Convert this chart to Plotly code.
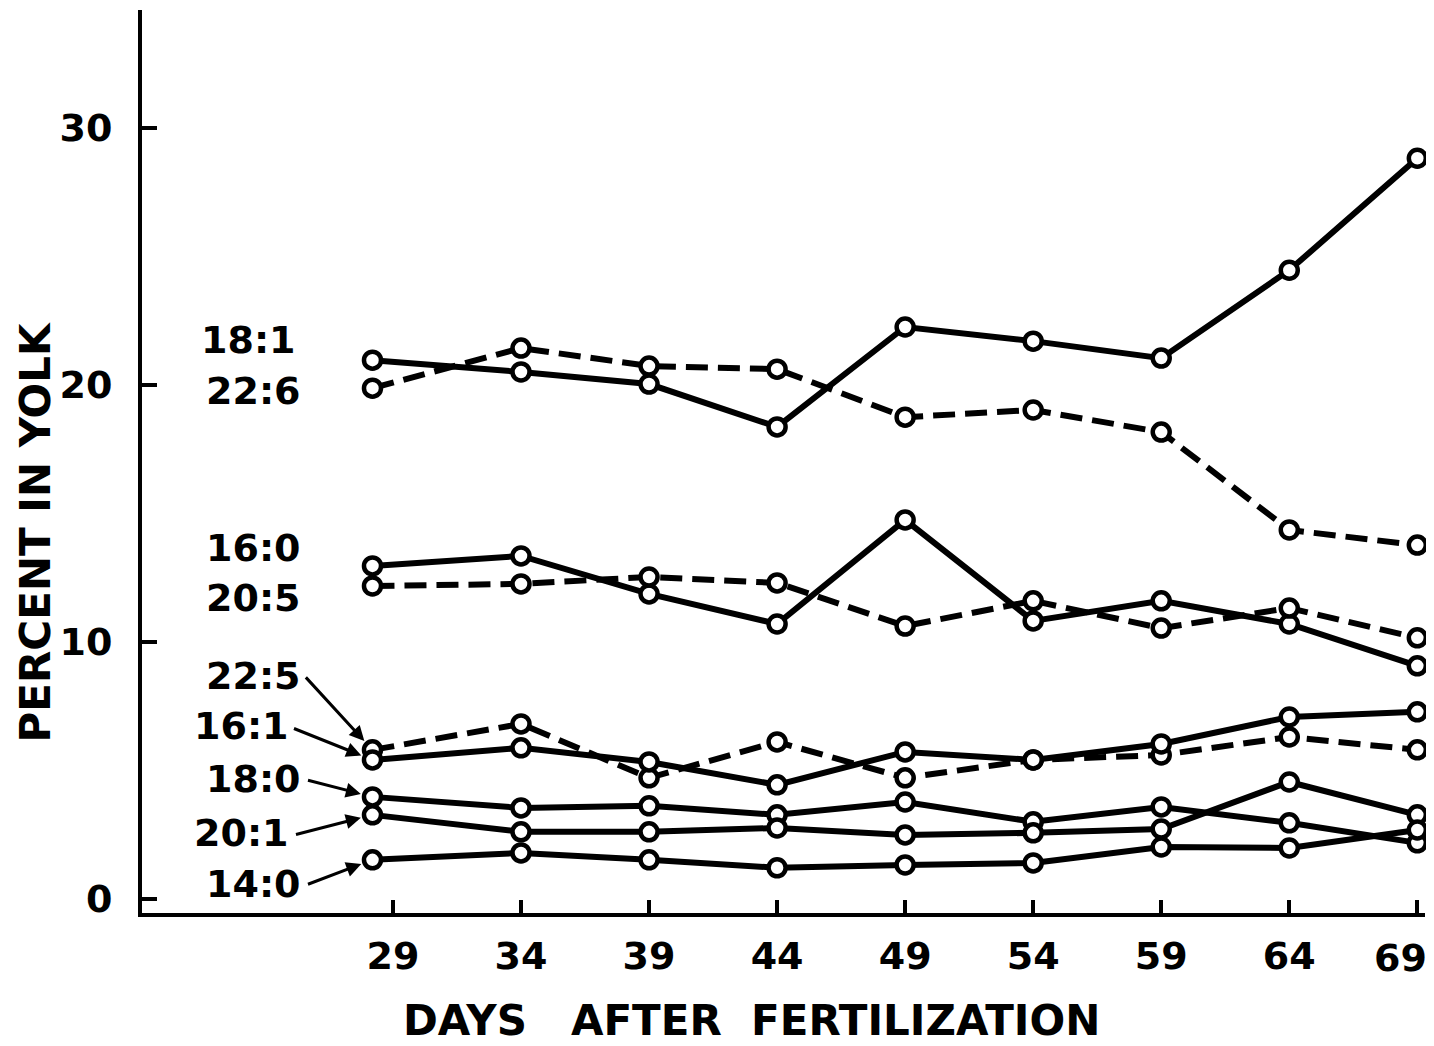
import plotly.graph_objects as go

# days after fertilization (first sampling sits a little before the 29 tick)
days = [28.2, 34, 39, 44, 49, 54, 59, 64, 69]
tick_days = [29, 34, 39, 44, 49, 54, 59, 64, 69]
y_ticks = [0, 10, 20, 30]

# percent of each fatty acid in yolk
fa_18_1 = [20.97, 20.51, 20.04, 18.37, 22.26, 21.71, 21.05, 24.47, 28.83]
fa_22_6 = [19.88, 21.44, 20.74, 20.62, 18.75, 19.03, 18.17, 14.36, 13.77]
fa_16_0 = [12.96, 13.35, 11.87, 10.70, 14.75, 10.82, 11.60, 10.70, 9.07]
fa_20_5 = [12.18, 12.26, 12.53, 12.30, 10.62, 11.60, 10.54, 11.32, 10.16]
fa_22_5 = [5.80, 6.81, 4.71, 6.11, 4.71, 5.41, 5.60, 6.30, 5.80]
fa_16_1 = [5.41, 5.88, 5.33, 4.44, 5.72, 5.41, 6.03, 7.08, 7.28]
fa_18_0 = [3.97, 3.54, 3.62, 3.27, 3.77, 3.00, 3.58, 2.96, 2.18]
fa_20_1 = [3.27, 2.61, 2.61, 2.76, 2.49, 2.57, 2.72, 4.55, 3.27]
fa_14_0 = [1.52, 1.79, 1.52, 1.21, 1.32, 1.40, 2.02, 1.98, 2.68]

series = [
    ("18:1", fa_18_1, False),
    ("22:6", fa_22_6, True),
    ("16:0", fa_16_0, False),
    ("20:5", fa_20_5, True),
    ("22:5", fa_22_5, True),
    ("16:1", fa_16_1, False),
    ("18:0", fa_18_0, False),
    ("20:1", fa_20_1, False),
    ("14:0", fa_14_0, False),
]

# label placement: (right edge in days, y in percent, arrow tail offset px or None)
label_pos = {
    "18:1": (25.3, 21.75, None),
    "22:6": (25.5, 19.77, None),
    "16:0": (25.5, 13.66, None),
    "20:5": (25.5, 11.71, None),
    "22:5": (25.5, 8.68, (-68, -74)),
    "16:1": (25.0, 6.73, (-80, -32)),
    "18:0": (25.5, 4.67, (-66, -17)),
    "20:1": (25.0, 2.57, (-78, 20)),
    "14:0": (25.5, 0.58, (-66, 25)),
}

font_main = dict(family="DejaVu Sans", size=38, color="black", weight="bold")
font_title = dict(family="DejaVu Sans", size=42, color="black", weight="bold")
nb = "\u00a0"

fig = go.Figure()

# lines first so the open circles sit on top
for name, vals, dashed in series:
    fig.add_trace(go.Scatter(
        x=days, y=vals, mode="lines", name=name, hoverinfo="skip",
        line=dict(color="black", width=6, dash="22px,10px" if dashed else "solid"),
    ))

for name, vals, dashed in series:
    fig.add_trace(go.Scatter(
        x=days, y=vals, mode="markers", name=name, cliponaxis=False,
        marker=dict(symbol="circle", size=17, color="white",
                    line=dict(color="black", width=4.5)),
    ))

for name, vals, dashed in series:
    lx, ly, arrow = label_pos[name]
    fig.add_annotation(x=lx, y=ly, xref="x", yref="y", text=name, showarrow=False,
                       xanchor="right", yanchor="middle", font=font_main)
    if arrow:
        fig.add_annotation(x=days[0], y=vals[0], xref="x", yref="y", text="",
                           showarrow=True, ax=arrow[0], ay=arrow[1],
                           arrowhead=2, arrowsize=1, arrowwidth=3,
                           arrowcolor="black", standoff=12)

# last tick label sits left of its tick, as in the original, so it stays on the page
tick_text = [str(d) for d in tick_days[:-1]] + [""]
fig.add_annotation(x=tick_days[-1], y=0, xref="x", yref="paper", text=str(tick_days[-1]),
                   showarrow=False, xanchor="center", yanchor="middle",
                   xshift=-17, yshift=-45, font=font_main)

fig.add_annotation(x=-0.083, y=0.422, xref="paper", yref="paper",
                   xanchor="center", yanchor="middle",
                   text="PERCENT" + nb + "IN" + nb + "YOLK", textangle=-90,
                   showarrow=False, font=font_title)
fig.add_annotation(x=0.475, y=-0.119, xref="paper", yref="paper",
                   xanchor="center", yanchor="middle",
                   text="DAYS" + nb * 3 + "AFTER" + nb * 2 + "FERTILIZATION",
                   showarrow=False, font=font_title)

fig.update_xaxes(range=[19.2, 69.3], tickvals=tick_days, ticktext=tick_text,
                 ticks="inside", ticklen=13,
                 tickwidth=4, tickcolor="black", showline=True, linewidth=4,
                 linecolor="black", showgrid=False, zeroline=False,
                 tickfont=font_main, ticklabelstandoff=6, ticklabeloverflow="allow",
                 automargin=False)
fig.update_yaxes(range=[-0.55, 34.6], tickvals=y_ticks, ticks="inside", ticklen=15,
                 tickwidth=4, tickcolor="black", showline=True, linewidth=4,
                 linecolor="black", showgrid=False, zeroline=False,
                 tickfont=font_main, ticklabelstandoff=18, automargin=False)

# page body adds an 8px offset, so the figure is trimmed to fit the window
fig.update_layout(width=1426, height=1038, showlegend=False,
                  margin=dict(l=134, r=9, t=2, b=133),
                  plot_bgcolor="white", paper_bgcolor="white")

fig.write_html("out.html")
